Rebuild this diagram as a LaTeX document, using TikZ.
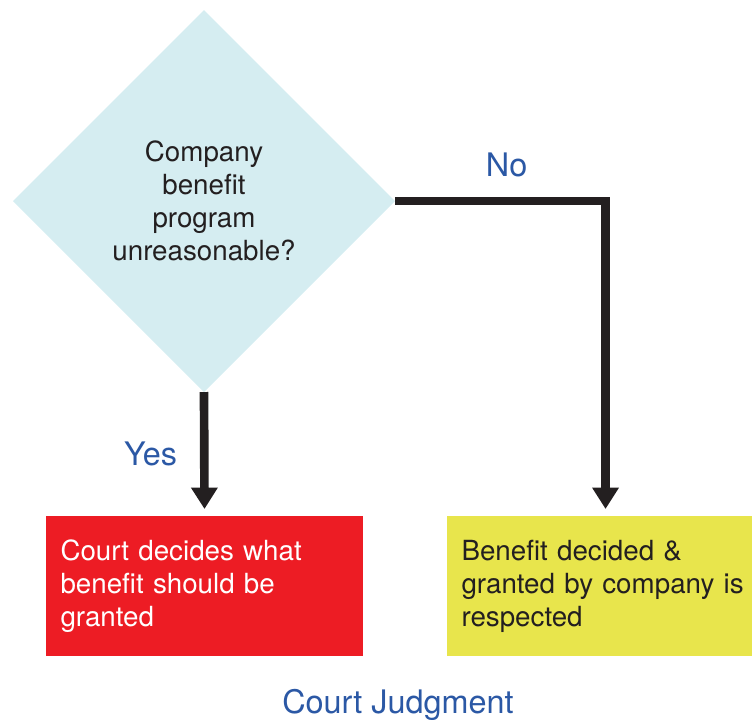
\documentclass[tikz,border=0pt]{standalone}
\usepackage{fontspec}
\setmainfont{TeX Gyre Heros}
\usepackage{tikz}
\usetikzlibrary{arrows.meta, positioning, shapes.geometric}
\definecolor{askcyan}{HTML}{D5EDF1}
\definecolor{courtred}{HTML}{ED1C24}
\definecolor{firmyellow}{HTML}{E8E54C}
\definecolor{answerblue}{HTML}{2B58A5}
\definecolor{flowblack}{HTML}{231F20}

\begin{document}
\begin{tikzpicture}[x=0.75pt, y=-0.75pt,
  every node/.style={font=\fontsize{20.8}{24.75}\selectfont, outer sep=0pt},
  decision/.style={diamond, fill=askcyan, text=flowblack, minimum width=286.5pt, minimum height=286.5pt, inner sep=0pt, align=center},
  outcome/.style={rectangle, anchor=north west, minimum height=105pt, text width=216pt, inner xsep=10.9pt, align=left},
  flow/.style={draw=flowblack, line width=6.5pt, -{Triangle[width=19pt, length=16pt]}, shorten >=5.25pt},
  answer/.style={text=answerblue, font=\fontsize{24.3}{29}\selectfont}]
  \useasboundingbox (0,0) rectangle (752,719);

  \node[decision] (ask) at (204,201) {Company\\ benefit\\ program\\ unreasonable?};

  \node[outcome, fill=courtred, text=white] (court) at (46,516) {Court decides what\\ benefit should be\\ granted};
  \node[outcome, fill=firmyellow, text=flowblack] (firm) at (447,516) {Benefit decided \&\\ granted by company is\\ respected};

  \draw[flow] (ask.south) -- node[answer, left=17pt, pos=0.5]{Yes} (court.north);
  \draw[flow] (ask.east) -| node[answer, pos=0.265, above=15pt]{No} (firm.north);

  \node[answer] (verdict) at (398,705) {Court Judgment};

\end{tikzpicture}
\end{document}
